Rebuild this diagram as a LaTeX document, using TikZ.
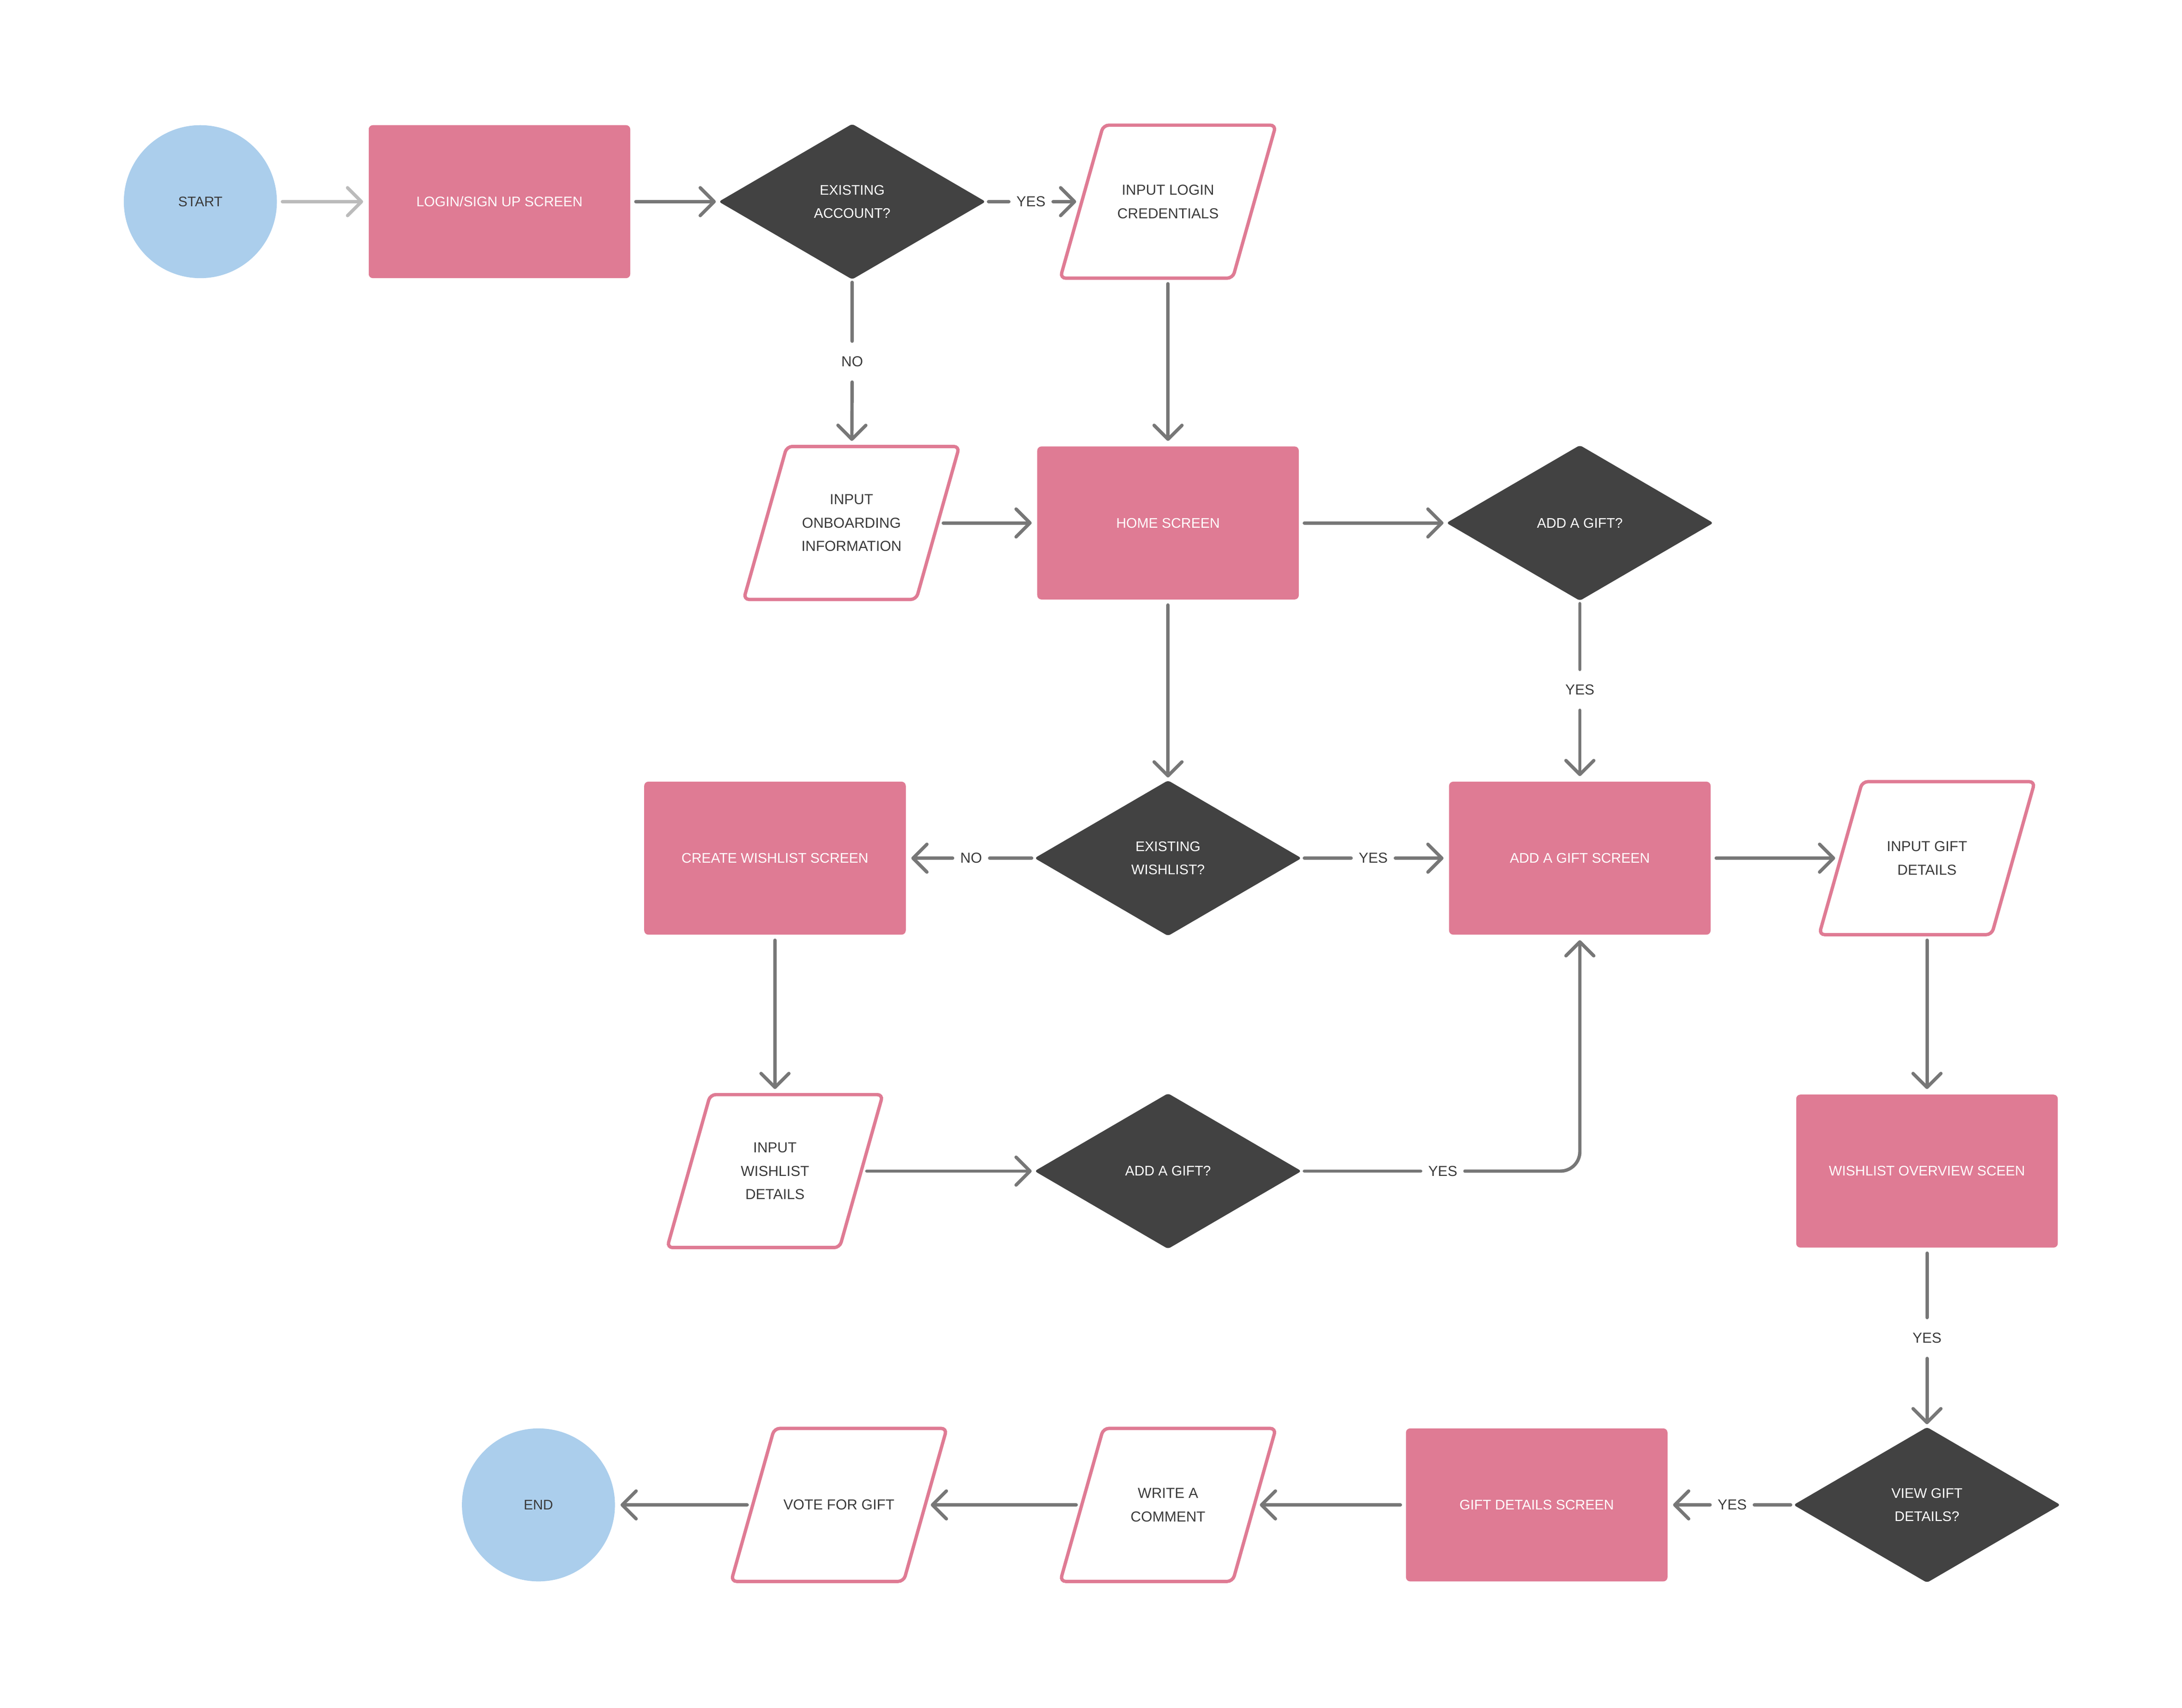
\documentclass[tikz,border=0pt]{standalone}
\usepackage{fontspec}
\setmainfont{Liberation Sans}
\usetikzlibrary{shapes.geometric,arrows.meta}
\definecolor{pinkbox}{HTML}{DF7B94}
\definecolor{darkbox}{HTML}{424242}
\definecolor{bluebox}{HTML}{ABCEEC}
\definecolor{conngray}{HTML}{777777}
\definecolor{lightgray}{HTML}{BBBBBB}
\definecolor{textdark}{HTML}{3A3A3A}
\tikzset{
  base/.style={outer sep=4pt, inner sep=0pt, align=center},
  termbox/.style={base, circle, fill=bluebox, minimum size=110pt, text=textdark, font=\fontsize{10}{16.5}\selectfont},
  screenbox/.style={base, rectangle, rounded corners=3pt, fill=pinkbox, minimum width=188pt, minimum height=110pt, text=white, font=\fontsize{10}{16.5}\selectfont},
  decbox/.style={base, outer sep=1.5pt, diamond, rounded corners=2pt, fill=darkbox, minimum width=193pt, minimum height=113pt, text=white, font=\fontsize{10}{16.5}\selectfont},
  iobox/.style={base, rectangle, minimum width=124pt, minimum height=110pt, text=textdark, font=\fontsize{10.4}{16.8}\selectfont},
  ioborder/.style={draw=pinkbox, line width=2.4pt, rounded corners=4pt},
  lbl/.style={inner xsep=5.5pt, inner ysep=11pt, outer sep=0pt, text=textdark, font=\fontsize{10.4}{12}\selectfont},
  conn/.style={draw=conngray, line width=2.4pt, line cap=round},
  arr/.style={conn, -{Straight Barb[length=10pt,width=20pt,round]}},
  lightarr/.style={arr, draw=lightgray}
}
\newcommand{\ioshape}[1]{%
  \draw[ioborder] ([shift={(-77.5,55)}]#1.center) -- ([shift={(46.5,55)}]#1.center)
    -- ([shift={(77.5,-55)}]#1.center) -- ([shift={(-46.5,-55)}]#1.center) -- cycle;}
\begin{document}
\begin{tikzpicture}[x=1pt,y=-1pt]
\useasboundingbox (0,0) rectangle (1568.3,1228);
% nodes
\node[termbox] (start) at (144,145) {START};
\node[screenbox] (login) at (359,145) {LOGIN/SIGN UP SCREEN};
\node[decbox] (exacc) at (612.5,145) {EXISTING\\ACCOUNT?};
\node[iobox] (ilogin) at (839.5,145) {INPUT LOGIN\\CREDENTIALS};
\ioshape{ilogin}
\node[iobox] (onb) at (612,376) {INPUT\\ONBOARDING\\INFORMATION};
\ioshape{onb}
\node[screenbox] (home) at (839.5,376) {HOME SCREEN};
\node[decbox] (addqa) at (1135.5,376) {ADD A GIFT?};
\node[decbox] (exwl) at (839.5,617) {EXISTING\\WISHLIST?};
\node[screenbox] (create) at (557,617) {CREATE WISHLIST SCREEN};
\node[screenbox] (ags) at (1135.5,617) {ADD A GIFT SCREEN};
\node[iobox] (igd) at (1385,617) {INPUT GIFT\\DETAILS};
\ioshape{igd}
\node[iobox] (iwd) at (557,842) {INPUT\\WISHLIST\\DETAILS};
\ioshape{iwd}
\node[decbox] (addqb) at (839.5,842) {ADD A GIFT?};
\node[screenbox] (wos) at (1385,842) {WISHLIST OVERVIEW SCEEN};
\node[decbox] (vgd) at (1385,1082) {VIEW GIFT\\DETAILS?};
\node[screenbox] (gds) at (1104.5,1082) {GIFT DETAILS SCREEN};
\node[iobox] (wac) at (839.5,1082) {WRITE A\\COMMENT};
\ioshape{wac}
\node[iobox] (vfg) at (603,1082) {VOTE FOR GIFT};
\ioshape{vfg}
\node[termbox] (end) at (387,1082) {END};
% labels
\node[lbl] (yesa) at (741,145) {YES};
\node[lbl] (noa) at (612.5,260) {NO};
\node[lbl] (yesb) at (1135.5,496) {YES};
\node[lbl] (nob) at (698,617) {NO};
\node[lbl] (yesc) at (987,617) {YES};
\node[lbl] (yesd) at (1037,842) {YES};
\node[lbl] (yese) at (1385,962) {YES};
\node[lbl] (yesf) at (1245,1082) {YES};
% connectors
\draw[lightarr] (start) -- (login);
\draw[arr] (login) -- (exacc);
\draw[conn] (exacc) -- (yesa);
\draw[arr] (yesa) -- (ilogin);
\draw[conn] (exacc) -- (noa);
\draw[arr] (noa) -- (onb);
\draw[arr] (ilogin) -- (home);
\draw[arr] (onb) -- (home);
\draw[arr] (home) -- (addqa);
\draw[conn] (addqa) -- (yesb);
\draw[arr] (yesb) -- (ags);
\draw[arr] (home) -- (exwl);
\draw[conn] (exwl) -- (nob);
\draw[arr] (nob) -- (create);
\draw[conn] (exwl) -- (yesc);
\draw[arr] (yesc) -- (ags);
\draw[arr] (ags) -- (igd);
\draw[arr] (igd) -- (wos);
\draw[arr] (create) -- (iwd);
\draw[arr] (iwd) -- (addqb);
\draw[conn] (addqb) -- (yesd);
\draw[arr, rounded corners=14pt] (yesd) -| (ags);
\draw[conn] (wos) -- (yese);
\draw[arr] (yese) -- (vgd);
\draw[conn] (vgd) -- (yesf);
\draw[arr] (yesf) -- (gds);
\draw[arr] (gds) -- (wac);
\draw[arr] (wac) -- (vfg);
\draw[arr] (vfg) -- (end);
\end{tikzpicture}
\end{document}
